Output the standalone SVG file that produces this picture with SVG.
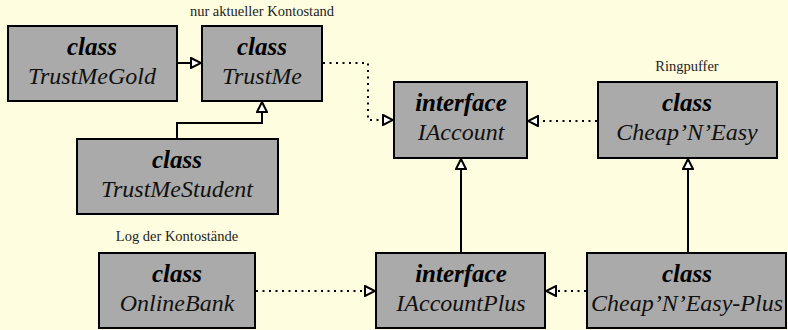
<svg xmlns="http://www.w3.org/2000/svg" width="788" height="330" viewBox="0 0 788 330">
<style>
.box{fill:#aaaaaa;stroke:#000;stroke-width:2}
.k{font-family:"Liberation Serif",serif;font-style:italic;font-weight:bold;font-size:25px;text-anchor:middle;fill:#000}
.n{font-family:"Liberation Serif",serif;font-style:italic;font-size:24px;text-anchor:middle;fill:#111}
.lbl{font-family:"Liberation Serif",serif;font-size:14.5px;text-anchor:middle;fill:#222}
.c{fill:none;stroke:#000;stroke-width:2;marker-end:url(#tri)}
.d{stroke-dasharray:2 4.5}
</style>
<defs>
<marker id="tri" markerUnits="userSpaceOnUse" markerWidth="12" markerHeight="12" refX="10" refY="5" orient="auto" viewBox="-1 -1 12 12">
<path d="M0,0 L10,5 L0,10 z" fill="#fff" stroke="#000" stroke-width="2"/>
</marker>
</defs>
<rect width="788" height="330" fill="#fffde0"/>
<g id="connectors">
<path class="c" d="M177,63 H201"/>
<path class="c" d="M177,139 V123 H262 V102"/>
<path class="c d" d="M323,63 H368 V120 H393"/>
<path class="c d" d="M597,121 H528"/>
<path class="c" d="M461,253 V159"/>
<path class="c" d="M688,253 V159"/>
<path class="c d" d="M256,291 H375"/>
<path class="c d" d="M586,291 H546"/>
</g>
<g id="TrustMeGold"><rect class="box" x="8" y="26" width="169" height="75"/><text class="k" x="92" y="55">class</text><text class="n" x="92" y="84">TrustMeGold</text></g>
<g id="TrustMe"><rect class="box" x="202" y="26" width="120" height="75"/><text class="k" x="262" y="55">class</text><text class="n" x="262" y="84">TrustMe</text><text class="lbl" x="262" y="16">nur aktueller Kontostand</text></g>
<g id="TrustMeStudent"><rect class="box" x="77" y="139" width="201" height="75"/><text class="k" x="177" y="168">class</text><text class="n" x="177" y="197">TrustMeStudent</text></g>
<g id="IAccount"><rect class="box" x="394" y="82" width="133" height="76"/><text class="k" x="461" y="111">interface</text><text class="n" x="461" y="140">IAccount</text></g>
<g id="CheapNEasy"><rect class="box" x="598" y="82" width="179" height="76"/><text class="k" x="687" y="111">class</text><text class="n" x="687" y="140">Cheap’N’Easy</text><text class="lbl" x="687" y="71">Ringpuffer</text></g>
<g id="OnlineBank"><rect class="box" x="99" y="253" width="156" height="75"/><text class="k" x="177" y="282">class</text><text class="n" x="177" y="311">OnlineBank</text><text class="lbl" x="177" y="241">Log der Kontostände</text></g>
<g id="IAccountPlus"><rect class="box" x="376" y="253" width="169" height="75"/><text class="k" x="461" y="282">interface</text><text class="n" x="461" y="311">IAccountPlus</text></g>
<g id="CheapNEasyPlus"><rect class="box" x="587" y="253" width="199" height="75"/><text class="k" x="687" y="282">class</text><text class="n" x="687" y="311">Cheap’N’Easy-Plus</text></g>
</svg>
